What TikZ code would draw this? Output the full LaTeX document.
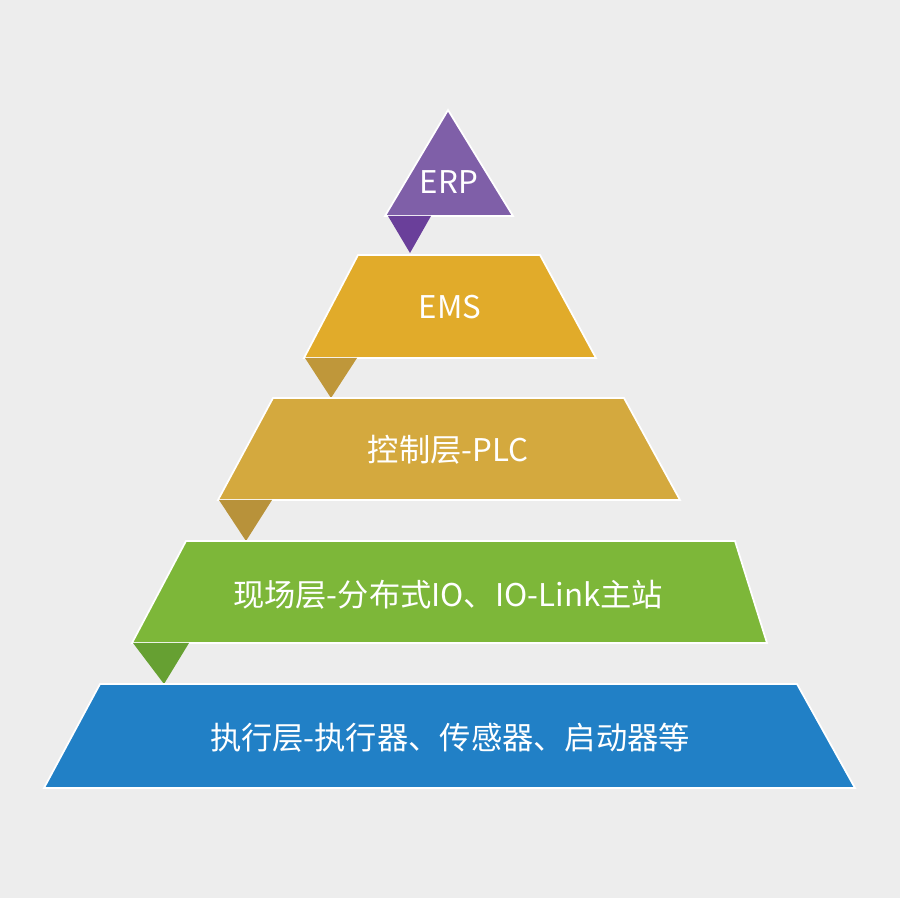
\documentclass[tikz,border=0pt]{standalone}
\usepackage{fontspec}
\setmainfont{Noto Sans CJK SC}
\definecolor{bg}{HTML}{EDEDED}
\definecolor{erp}{HTML}{7F5FA8}
\definecolor{erptab}{HTML}{6A3F9A}
\definecolor{ems}{HTML}{E1AB2A}
\definecolor{emstab}{HTML}{BF973A}
\definecolor{plc}{HTML}{D4A93E}
\definecolor{plctab}{HTML}{B8923A}
\definecolor{field}{HTML}{7DB739}
\definecolor{fieldtab}{HTML}{66A032}
\definecolor{exec}{HTML}{2180C6}
\tikzset{
  layer/.style={draw=white,line width=1pt},
  label/.style={text=white,font=\fontsize{17.8}{21}\selectfont}
}
\begin{document}
\begin{tikzpicture}[x=0.02cm,y=-0.02cm]
\fill[bg] (0,0) rectangle (900,898);
\useasboundingbox (0,0) rectangle (900,898);

% layers, top to bottom
\fill[layer,fill=erp] (448,110) -- (513,216) -- (385,216) -- cycle;
\fill[erptab] (388,216) -- (431,216) -- (410,253) -- cycle;
\node[label] (erp) at (449,182) {ERP};

\fill[layer,fill=ems] (358,255) -- (540,255) -- (596,358) -- (304,358) -- cycle;
\fill[emstab] (305,358) -- (357,358) -- (331,398) -- cycle;
\node[label] (emsl) at (450,307) {EMS};

\fill[layer,fill=plc] (273,398) -- (624,398) -- (680,500) -- (218,500) -- cycle;
\fill[plctab] (219,500) -- (272,500) -- (246,541) -- cycle;
\node[label] (plcl) at (448,450) {控制层-PLC};

\fill[layer,fill=field] (186,541) -- (735,541) -- (767,643) -- (132,643) -- cycle;
\fill[fieldtab] (133,643) -- (189,643) -- (164,684) -- cycle;
\node[label] (fieldl) at (448,595) {现场层-分布式IO、IO-Link主站};

\fill[layer,fill=exec] (100,684) -- (797,684) -- (855,788) -- (44,788) -- cycle;
\node[label] (execl) at (450,738) {执行层-执行器、传感器、启动器等};
\end{tikzpicture}
\end{document}
